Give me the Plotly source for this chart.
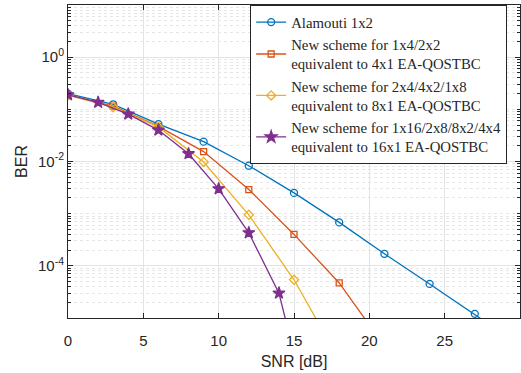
import plotly.graph_objects as go

# ---- data ----
snr_alamouti = [0, 3, 6, 9, 12, 15, 18, 21, 24, 27, 30]
ber_alamouti = [0.2, 0.125, 0.052, 0.024, 0.0083, 0.0025, 6.8e-4, 1.7e-4, 4.5e-5, 1.2e-5, 3.0e-6]

snr_4x1 = [0, 3, 6, 9, 12, 15, 18, 21]
ber_4x1 = [0.19, 0.115, 0.047, 0.0155, 0.0029, 4.0e-4, 4.7e-5, 2.9e-6]

snr_8x1 = [0, 3, 6, 9, 12, 15, 18]
ber_8x1 = [0.185, 0.11, 0.046, 0.0098, 9.5e-4, 5.4e-5, 1.6e-6]

snr_16x1 = [0, 2, 4, 6, 8, 10, 12, 14, 16]
ber_16x1 = [0.19, 0.136, 0.081, 0.040, 0.0141, 0.0030, 4.3e-4, 3.0e-5, 1.5e-7]

names = [
    "Alamouti 1x2",
    "New scheme for 1x4/2x2<br>equivalent to 4x1 EA-QOSTBC",
    "New scheme for 2x4/4x2/1x8<br>equivalent to 8x1 EA-QOSTBC",
    "New scheme for 1x16/2x8/8x2/4x4<br>equivalent to 16x1 EA-QOSTBC",
]

x_ticks = [0, 5, 10, 15, 20, 25, 30]
y_ticks = [1e-4, 1e-2, 1e0]
y_tick_text = ["10<sup>-4</sup>", "10<sup>-2</sup>", "10<sup>0</sup>"]
y_minor = [k * 10.0 ** n for n in range(-5, 1) for k in range(1, 10)] + [10.0]

colors = ["#0072BD", "#D95319", "#EDB120", "#7E2F8E"]
symbols = ["circle-open", "square-open", "diamond-open", "star"]
sizes = [7, 6, 7, 9]

fig = go.Figure()
series = [
    (snr_alamouti, ber_alamouti),
    (snr_4x1, ber_4x1),
    (snr_8x1, ber_8x1),
    (snr_16x1, ber_16x1),
]
for (xs, ys), name, c, s, sz in zip(series, names, colors, symbols, sizes):
    fig.add_trace(go.Scatter(
        x=xs, y=ys, name=name, mode="lines+markers",
        line=dict(color=c, width=1.3),
        marker=dict(symbol=s, size=sz, color=c, line=dict(color=c, width=1.3)),
        cliponaxis=True,
    ))

axis_font = dict(family="Liberation Sans, Arial, sans-serif", size=15, color="#262626")

fig.update_layout(
    width=521, height=373,
    margin=dict(l=68, r=1, t=5, b=55, autoexpand=False),
    paper_bgcolor="white", plot_bgcolor="white",
    showlegend=True,
    legend=dict(
        x=0.403, xanchor="left", y=1.0, yanchor="top",
        bgcolor="white", bordercolor="#262626", borderwidth=1,
        font=dict(family="Liberation Serif, DejaVu Serif, serif", size=14.8, color="#262626"),
        tracegroupgap=0, itemwidth=30,
    ),
    font=axis_font,
)

fig.update_xaxes(
    range=[0, 30], tickvals=x_ticks, automargin=False,
    showgrid=True, gridcolor="#e3e3e3", gridwidth=1,
    showline=True, linecolor="#262626", linewidth=1, mirror="ticks",
    ticks="inside", ticklen=5, tickcolor="#262626",
    ticklabelstandoff=9,
    zeroline=False,
    title=dict(text="SNR [dB]", font=dict(size=16, color="#262626"), standoff=7),
    tickfont=axis_font,
)

fig.update_yaxes(
    type="log", range=[-5, 1], automargin=False,
    tickvals=y_ticks, ticktext=y_tick_text,
    showgrid=True, gridcolor="#e3e3e3", gridwidth=1,
    showline=True, linecolor="#262626", linewidth=1, mirror="ticks",
    ticks="inside", ticklen=5, tickcolor="#262626",
    zeroline=False,
    minor=dict(tickmode="array", tickvals=y_minor, ticks="inside", ticklen=3,
               tickcolor="#262626", showgrid=True, gridcolor="#e6e6e6", griddash="dot"),
    title=dict(text="BER", font=dict(size=16, color="#262626"), standoff=6),
    tickfont=axis_font,
)

# remove the browser's default 8px page margin so the figure sits at the window origin
fig.write_html("out.html", config={"displayModeBar": False},
               post_script="document.body.style.margin='0px';")
